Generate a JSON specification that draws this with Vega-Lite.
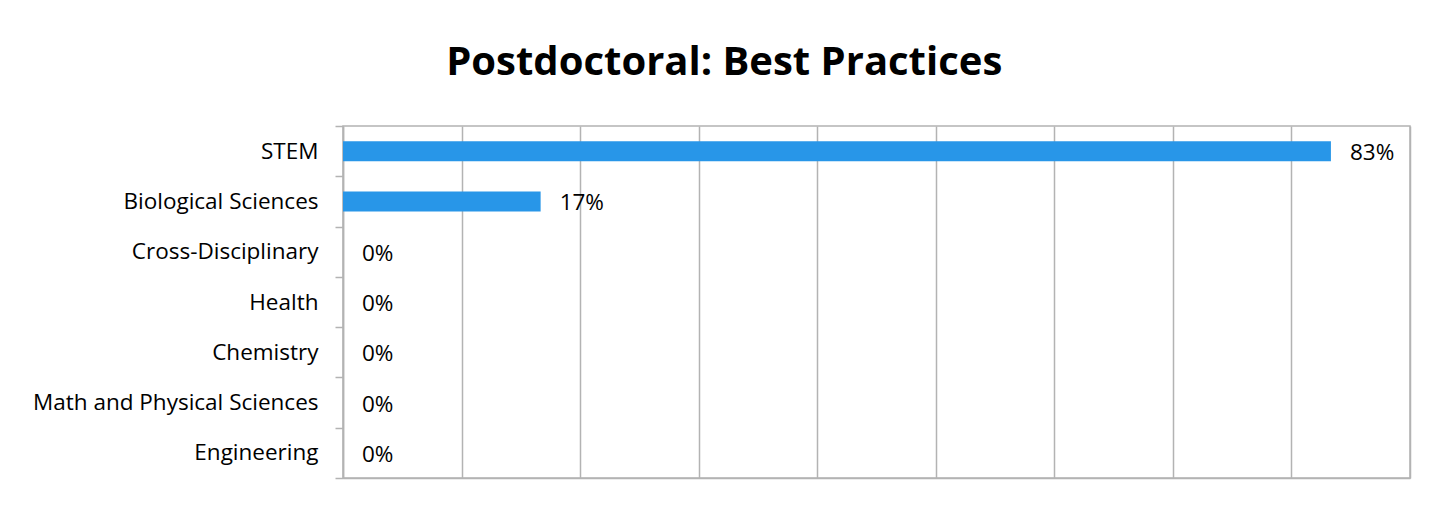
{
  "$schema": "https://vega.github.io/schema/vega-lite/v6.json",
  "width": 1067,
  "height": 352,
  "autosize": {"type": "none"},
  "padding": {"left": 343, "top": 126, "right": 40, "bottom": 30},
  "background": "white",
  "title": {
    "text": "Postdoctoral: Best Practices",
    "font": "Open Sans",
    "fontSize": 40,
    "fontWeight": "bold",
    "color": "#000000",
    "anchor": "middle",
    "frame": "bounds",
    "offset": 32,
    "dx": 3
  },
  "data": {
    "values": [
      {"category": "STEM", "value": 0.8333},
      {"category": "Biological Sciences", "value": 0.1667},
      {"category": "Cross-Disciplinary", "value": 0},
      {"category": "Health", "value": 0},
      {"category": "Chemistry", "value": 0},
      {"category": "Math and Physical Sciences", "value": 0},
      {"category": "Engineering", "value": 0}
    ]
  },
  "encoding": {
    "y": {
      "field": "category",
      "type": "nominal",
      "sort": null,
      "scale": {"paddingInner": 0, "paddingOuter": 0},
      "axis": {
        "title": null,
        "tickBand": "extent",
        "tickSize": 8,
        "tickColor": "#b3b3b3",
        "tickWidth": 1.5,
        "domainColor": "#b3b3b3",
        "domainWidth": 1.5,
        "labelFont": "Open Sans",
        "labelFontSize": 22.5,
        "labelColor": "#000000",
        "labelPadding": 17,
        "labelLimit": 0,
        "grid": false
      }
    },
    "x": {
      "field": "value",
      "type": "quantitative",
      "scale": {"domain": [0, 0.9], "nice": false},
      "axis": {
        "title": null,
        "labels": false,
        "ticks": false,
        "values": [0, 0.1, 0.2, 0.3, 0.4, 0.5, 0.6, 0.7, 0.8, 0.9],
        "grid": true,
        "gridColor": "#b3b3b3",
        "gridWidth": 1.5,
        "domainColor": "#b3b3b3",
        "domainWidth": 1.5
      }
    }
  },
  "layer": [
    {"mark": {"type": "bar", "color": "#2896E8", "size": 20}},
    {
      "mark": {"type": "text", "align": "left", "dx": 19, "dy": 2, "font": "Open Sans", "fontSize": 22.5, "color": "#000000"},
      "encoding": {"text": {"field": "value", "type": "quantitative", "format": ".0%"}}
    }
  ],
  "config": {
    "view": {"stroke": "#b3b3b3", "strokeWidth": 1.5}
  }
}
